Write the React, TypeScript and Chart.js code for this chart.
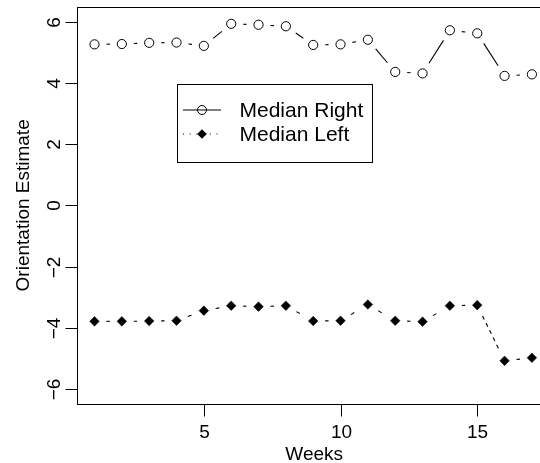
import React, { useEffect, useRef } from "react";
import { Chart, registerables } from "chart.js";

Chart.register(...registerables);

const weeks = [1, 2, 3, 4, 5, 6, 7, 8, 9, 10, 11, 12, 13, 14, 15, 16, 17];
const medianRight = [5.26, 5.27, 5.31, 5.32, 5.21, 5.93, 5.9, 5.85, 5.24, 5.26, 5.41, 4.36, 4.31, 5.72, 5.62, 4.23, 4.28];
const medianLeft = [-3.79, -3.79, -3.78, -3.77, -3.44, -3.28, -3.31, -3.28, -3.78, -3.77, -3.24, -3.77, -3.8, -3.28, -3.26, -5.08, -4.98];
const xTicks = [5, 10, 15];
const yTicks = [-6, -4, -2, 0, 2, 4, 6];
const xTitle = "Weeks";
const yTitle = "Orientation Estimate";
const legendLabels = ["Median Right", "Median Left"];

const FONT = '19px "Liberation Sans", Arial, Helvetica, sans-serif';
const LEGEND_FONT = '21px "Liberation Sans", Arial, Helvetica, sans-serif';

const fmt = (v: number) => (v < 0 ? "\u2212" + Math.abs(v) : String(v));

const rBasePlugin = {
  id: "rBase",
  beforeDatasetsDraw(chart: any) {
    const ctx = chart.ctx as CanvasRenderingContext2D;
    const gap = 12;
    chart.data.datasets.forEach((ds: any, di: number) => {
      const meta = chart.getDatasetMeta(di);
      const pts = meta.data;
      ctx.save();
      ctx.strokeStyle = "#000";
      ctx.lineWidth = 1.1;
      ctx.setLineDash(ds.rDash || []);
      for (let i = 0; i < pts.length - 1; i++) {
        const a = pts[i];
        const b = pts[i + 1];
        const dx = b.x - a.x;
        const dy = b.y - a.y;
        const d = Math.hypot(dx, dy);
        if (d <= 2 * gap) continue;
        const ux = dx / d;
        const uy = dy / d;
        ctx.beginPath();
        ctx.moveTo(a.x + ux * gap, a.y + uy * gap);
        ctx.lineTo(b.x - ux * gap, b.y - uy * gap);
        ctx.stroke();
      }
      ctx.restore();
    });
  },
  afterDraw(chart: any) {
    const ctx = chart.ctx as CanvasRenderingContext2D;
    const { left, right, top, bottom } = chart.chartArea;
    const xs = chart.scales.x;
    const ys = chart.scales.y;
    ctx.save();
    ctx.strokeStyle = "#000";
    ctx.fillStyle = "#000";
    ctx.lineWidth = 1;
    ctx.setLineDash([]);
    // frame
    const L = Math.round(left) + 0.5;
    const T = Math.round(top) + 0.5;
    const B = Math.round(bottom) + 0.5;
    const R = Math.round(right) + 0.5;
    ctx.strokeRect(L, T, R - L, B - T);
    // x ticks
    ctx.font = FONT;
    ctx.textAlign = "center";
    ctx.textBaseline = "alphabetic";
    xTicks.forEach((v) => {
      const px = Math.round(xs.getPixelForValue(v)) + 0.5;
      ctx.beginPath();
      ctx.moveTo(px, B);
      ctx.lineTo(px, B + 12);
      ctx.stroke();
      ctx.fillText(String(v), px, 437.5);
    });
    // y ticks
    yTicks.forEach((v) => {
      const py = Math.round(ys.getPixelForValue(v)) + 0.5;
      ctx.beginPath();
      ctx.moveTo(L, py);
      ctx.lineTo(L - 12, py);
      ctx.stroke();
      ctx.save();
      ctx.translate(60, py);
      ctx.rotate(-Math.PI / 2);
      ctx.textAlign = "center";
      ctx.fillText(fmt(v), 0, 0);
      ctx.restore();
    });
    // titles
    ctx.textAlign = "center";
    ctx.fillText(xTitle, (left + right) / 2 + 1, 460);
    ctx.save();
    ctx.translate(28.5, (top + bottom) / 2);
    ctx.rotate(-Math.PI / 2);
    ctx.fillText(yTitle, 0, 0);
    ctx.restore();

    // legend
    const bx = Math.round(xs.getPixelForValue(4.03)) + 0.5;
    const by = Math.round(ys.getPixelForValue(3.98)) + 0.5;
    const bw = 195;
    const bh = 78;
    ctx.fillStyle = "#fff";
    ctx.fillRect(bx, by, bw, bh);
    ctx.strokeRect(bx, by, bw, bh);
    ctx.fillStyle = "#000";
    const lx0 = bx + 5.5;
    const lx1 = bx + 43.5;
    const mx = bx + 24.5;
    const rows = [by + 25.5, by + 49.5];
    // row 1: solid line with open circle
    ctx.beginPath();
    ctx.moveTo(lx0, rows[0]);
    ctx.lineTo(lx1, rows[0]);
    ctx.stroke();
    ctx.beginPath();
    ctx.arc(mx, rows[0], 4.5, 0, Math.PI * 2);
    ctx.stroke();
    // row 2: dotted line with filled diamond
    ctx.save();
    ctx.setLineDash([1, 5.7]);
    ctx.beginPath();
    ctx.moveTo(lx0, rows[1]);
    ctx.lineTo(lx1, rows[1]);
    ctx.stroke();
    ctx.restore();
    ctx.beginPath();
    ctx.moveTo(mx - 4.8, rows[1]);
    ctx.lineTo(mx, rows[1] - 4.8);
    ctx.lineTo(mx + 4.8, rows[1]);
    ctx.lineTo(mx, rows[1] + 4.8);
    ctx.closePath();
    ctx.fill();
    ctx.font = LEGEND_FONT;
    ctx.textAlign = "left";
    ctx.textBaseline = "alphabetic";
    ctx.fillText(legendLabels[0], bx + 62, rows[0] + 7);
    ctx.fillText(legendLabels[1], bx + 62, rows[1] + 7);
    ctx.restore();
  },
};

export default function App() {
  const ref = useRef<HTMLCanvasElement | null>(null);
  useEffect(() => {
    if (!ref.current) return;
    const chart = new Chart(ref.current, {
      type: "scatter",
      data: {
        datasets: [
          {
            label: legendLabels[0],
            data: weeks.map((w, i) => ({ x: w, y: medianRight[i] })),
            showLine: false,
            pointStyle: "circle",
            pointRadius: 4.6,
            pointBorderWidth: 1,
            pointBorderColor: "#000",
            pointBackgroundColor: "rgba(0,0,0,0)",
            rDash: [],
          } as any,
          {
            label: legendLabels[1],
            data: weeks.map((w, i) => ({ x: w, y: medianLeft[i] })),
            showLine: false,
            pointStyle: "rectRot",
            pointRadius: 4.8,
            pointBorderWidth: 0.5,
            pointBorderColor: "#000",
            pointBackgroundColor: "#000",
            rDash: [4, 4],
          } as any,
        ],
      },
      options: {
        responsive: false,
        animation: false,
        devicePixelRatio: 1,
        layout: { padding: { left: 77, top: 7, right: 10.6, bottom: 59.3 } },
        plugins: { legend: { display: false }, tooltip: { enabled: false } },
        events: [],
        scales: {
          x: { type: "linear", min: 0.36, max: 17.64, display: false },
          y: { type: "linear", min: -6.48, max: 6.48, display: false },
        },
      },
      plugins: [rBasePlugin],
    });
    return () => chart.destroy();
  }, []);
  return (
    <div
      style={{
        position: "fixed",
        left: 0,
        top: 0,
        width: 540,
        height: 463,
        overflow: "hidden",
        background: "#fff",
      }}
    >
      <canvas ref={ref} width={560} height={463} style={{ display: "block", width: 560, height: 463 }} />
    </div>
  );
}
